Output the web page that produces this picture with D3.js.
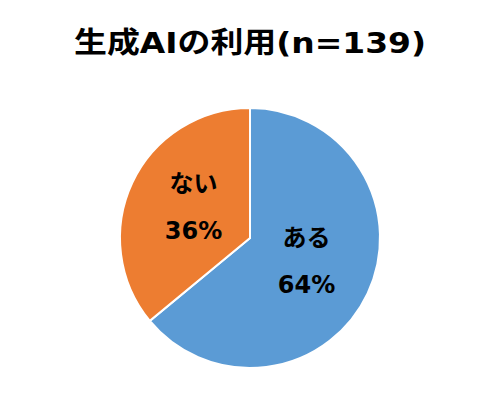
<!DOCTYPE html>
<html>
<head>
<meta charset="utf-8">
<script src="https://cdn.jsdelivr.net/npm/d3@7"></script>
<style>
  body { margin: 0; background: #fff; }
  svg text { font-family: "DejaVu Sans", "Noto Sans CJK JP", sans-serif; font-weight: bold; }
</style>
</head>
<body>
<svg id="chart" width="500" height="402"></svg>
<script>
var title = "生成AIの利用(n=139)";
var categories = ["ある", "ない"];
var values = [64, 36];
var colors = ["#5B9BD5", "#ED7D31"];

var svg = d3.select("#chart");
var width = 500, cx = 250, cy = 238, radius = 130;

svg.append("text")
    .attr("x", width / 2)
    .attr("y", 53)
    .attr("text-anchor", "middle")
    .attr("font-size", 29)
    .attr("textLength", 352)
    .attr("lengthAdjust", "spacingAndGlyphs")
    .attr("fill", "#000")
    .text(title);

var pie = d3.pie().sort(null).value(function (d) { return d; });
var arcs = pie(values);
var arc = d3.arc().innerRadius(0).outerRadius(radius);
var labelArc = d3.arc().innerRadius(radius * 0.48).outerRadius(radius * 0.48);

var g = svg.append("g").attr("transform", "translate(" + cx + "," + cy + ")");

g.selectAll("path")
    .data(arcs)
    .enter()
    .append("path")
    .attr("d", arc)
    .attr("fill", function (d, i) { return colors[i]; })
    .attr("stroke", "#fff")
    .attr("stroke-width", 2);

var labels = g.selectAll(".label")
    .data(arcs)
    .enter()
    .append("text")
    .attr("class", "label")
    .attr("text-anchor", "middle")
    .attr("font-size", 24)
    .attr("fill", "#000")
    .attr("transform", function (d) { return "translate(" + labelArc.centroid(d) + ")"; });
labels.append("tspan")
    .attr("x", 0)
    .attr("y", -19)
    .text(function (d, i) { return categories[i]; });
labels.append("tspan")
    .attr("x", 0)
    .attr("y", 28)
    .text(function (d) { return d.data + "%"; });
</script>
</body>
</html>
